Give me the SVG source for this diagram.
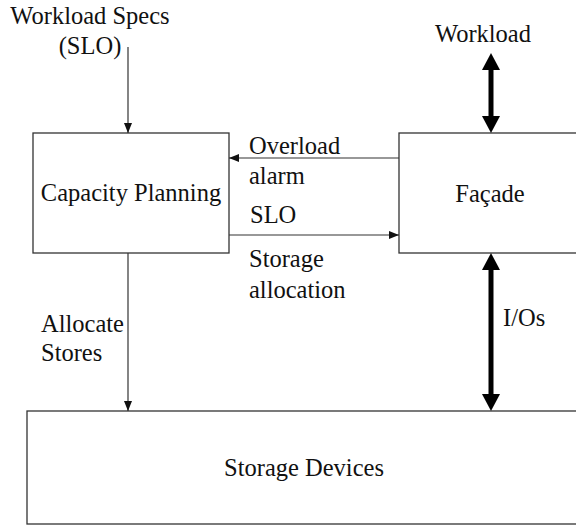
<svg xmlns="http://www.w3.org/2000/svg" width="576" height="527" viewBox="0 0 576 527">
  <style>
    .box { fill: #ffffff; stroke: #333333; stroke-width: 1.3; }
    .thin { stroke: #333333; stroke-width: 1.2; fill: none; }
    .thick { stroke: #000000; stroke-width: 5; fill: none; }
    text { font-family: 'Liberation Serif', 'Tinos', 'Times New Roman', Times, 'DejaVu Serif', serif; font-size: 24.5px; fill: #111111; }
    .c { text-anchor: middle; }
  </style>
  <defs>
    <marker id="ah" markerUnits="userSpaceOnUse" markerWidth="11" markerHeight="9" refX="10" refY="4" orient="auto" overflow="visible">
      <path d="M0,0 L10,4 L0,8 z" fill="#111111"/>
    </marker>
    <marker id="bh" markerUnits="userSpaceOnUse" markerWidth="18" markerHeight="18" refX="2" refY="9" orient="auto-start-reverse" overflow="visible">
      <path d="M0,0 L17,9 L0,18 z" fill="#000000"/>
    </marker>
  </defs>
  <rect width="576" height="527" fill="#ffffff"/>

  <g id="capacity-planning">
    <rect class="box" x="33" y="133" width="196" height="120"/>
    <text class="c" x="131" y="201" font-family="Liberation Serif, serif">Capacity Planning</text>
  </g>
  <g id="facade">
    <rect class="box" x="399" y="133" width="185" height="120"/>
    <text class="c" x="490" y="202" font-family="Liberation Serif, serif">Façade</text>
  </g>
  <g id="storage-devices">
    <rect class="box" x="27" y="411" width="560" height="113"/>
    <text class="c" x="304" y="476" font-family="Liberation Serif, serif">Storage Devices</text>
  </g>
  <g id="workload-specs">
    <text class="c" x="90" y="24" font-family="Liberation Serif, serif">Workload Specs</text>
    <text class="c" x="90" y="54" font-family="Liberation Serif, serif">(SLO)</text>
  </g>
  <g id="workload">
    <text class="c" x="483" y="42" font-family="Liberation Serif, serif">Workload</text>
  </g>

  <g id="connectors">
    <line class="thin" x1="128" y1="47" x2="128" y2="133" marker-end="url(#ah)"/>
    <line class="thin" x1="399" y1="158" x2="229" y2="158" marker-end="url(#ah)"/>
    <line class="thin" x1="229" y1="235" x2="399" y2="235" marker-end="url(#ah)"/>
    <line class="thin" x1="128" y1="253" x2="128" y2="411" marker-end="url(#ah)"/>
    <line class="thick" x1="491" y1="68" x2="491" y2="118" marker-start="url(#bh)" marker-end="url(#bh)"/>
    <line class="thick" x1="491" y1="268" x2="491" y2="396" marker-start="url(#bh)" marker-end="url(#bh)"/>
    <text x="249" y="154" font-family="Liberation Serif, serif">Overload</text>
    <text x="249" y="184" font-family="Liberation Serif, serif">alarm</text>
    <text x="250" y="223" font-family="Liberation Serif, serif">SLO</text>
    <text x="249" y="267" font-family="Liberation Serif, serif">Storage</text>
    <text x="249" y="298" font-family="Liberation Serif, serif">allocation</text>
    <text x="41" y="332" font-family="Liberation Serif, serif">Allocate</text>
    <text x="41" y="361" font-family="Liberation Serif, serif">Stores</text>
    <text x="503" y="326" font-family="Liberation Serif, serif">I/Os</text>
  </g>
</svg>
